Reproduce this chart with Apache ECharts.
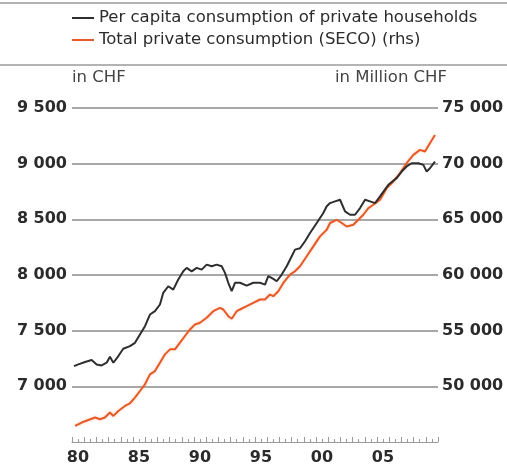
<!DOCTYPE html>
<html>
<head>
<meta charset="utf-8">
<title>Private consumption</title>
<script src="https://cdn.jsdelivr.net/npm/echarts@6/dist/echarts.min.js"></script>
<style>
  html, body { margin: 0; padding: 0; background: #fff; }
  #chart { width: 507px; height: 472px; }
</style>
</head>
<body>
<div id="chart"></div>
<script>
// ---------------------------------------------------
// Data
// ---------------------------------------------------
const perCapitaYears = [
  1980.16, 1980.52, 1981.07, 1981.61, 1982.02, 1982.43, 1982.84, 1983.11, 1983.39, 1983.80,
  1984.20, 1984.75, 1985.16, 1985.57, 1985.98, 1986.39, 1986.80, 1987.21, 1987.48, 1987.89,
  1988.30, 1988.71, 1989.12, 1989.40, 1989.81, 1990.22, 1990.63, 1991.04, 1991.45, 1991.86,
  1992.27, 1992.54, 1992.81, 1993.09, 1993.36, 1993.77, 1994.32, 1994.86, 1995.41, 1995.82,
  1996.09, 1996.50, 1996.78, 1997.19, 1997.60, 1998.01, 1998.28, 1998.69, 1999.10, 1999.51,
  2000.06, 2000.60, 2000.88, 2001.15, 2001.56, 2001.97, 2002.38, 2002.79, 2003.20, 2003.61,
  2004.02, 2004.43, 2004.84, 2005.25, 2005.93, 2006.61, 2007.02, 2007.43, 2007.84, 2008.39,
  2008.80, 2009.07, 2009.34, 2009.75
];
const perCapita = [
  7182, 7197, 7218, 7236, 7197, 7188, 7212, 7266, 7212, 7272,
  7338, 7361, 7391, 7466, 7540, 7645, 7675, 7735, 7840, 7899,
  7869, 7959, 8033, 8064, 8033, 8064, 8048, 8093, 8078, 8093,
  8078, 8019, 7930, 7855, 7930, 7930, 7905, 7930, 7930, 7914,
  7989, 7965, 7944, 8004, 8078, 8168, 8228, 8240, 8303, 8377,
  8467, 8557, 8617, 8646, 8661, 8676, 8571, 8541, 8541, 8601,
  8676, 8661, 8646, 8706, 8810, 8870, 8929, 8975, 9004, 9004,
  8989, 8929, 8959, 9019
];

const totalYears = [
  1980.25, 1980.80, 1981.34, 1981.89, 1982.30, 1982.70, 1983.11, 1983.39, 1983.80, 1984.34,
  1984.75, 1985.16, 1985.57, 1985.98, 1986.39, 1986.80, 1987.21, 1987.62, 1988.03, 1988.44,
  1988.85, 1989.26, 1989.67, 1990.08, 1990.49, 1991.04, 1991.58, 1992.13, 1992.40, 1992.81,
  1993.09, 1993.50, 1993.77, 1994.32, 1994.86, 1995.41, 1995.82, 1996.23, 1996.50, 1996.91,
  1997.32, 1997.87, 1998.28, 1998.69, 1999.24, 1999.78, 2000.33, 2000.88, 2001.15, 2001.70,
  2002.11, 2002.52, 2003.06, 2003.47, 2003.88, 2004.29, 2004.70, 2005.25, 2005.80, 2006.34,
  2006.89, 2007.43, 2007.98, 2008.52, 2008.93, 2009.34, 2009.75
];
const totalConsumption = [
  46444, 46747, 46980, 47197, 47045, 47197, 47645, 47343, 47790, 48239,
  48478, 48990, 49582, 50184, 51078, 51373, 52125, 52872, 53320, 53320,
  53920, 54520, 55110, 55560, 55710, 56157, 56750, 57050, 56900, 56300,
  56070, 56750, 56900, 57200, 57500, 57800, 57800, 58245, 58095, 58540,
  59290, 60040, 60340, 60780, 61680, 62570, 63470, 64070, 64670, 64960,
  64670, 64360, 64520, 64960, 65410, 66010, 66310, 66760, 67810, 68400,
  69150, 70040, 70790, 71240, 71090, 71840, 72580
];

const leftTicks = [7000, 7500, 8000, 8500, 9000, 9500];
const rightTicks = [50000, 55000, 60000, 65000, 70000, 75000];
const yearLabels = [1980, 1985, 1990, 1995, 2000, 2005];

// ---------------------------------------------------
// Helpers
// ---------------------------------------------------
const fmtThousands = v => String(v).replace(/\B(?=(\d{3})+(?!\d))/g, " ");
const zip = (xs, ys) => xs.map((x, i) => [x, ys[i]]);

const GRID_COLOR = "#a8a8a8";
const TEXT_COLOR = "#2b2b2b";
const ORANGE = "#e65a28";
const BLACK = "#2e2e2e";

// first split line (6500) sits on the x axis and stays hidden
const splitColors = ["rgba(0,0,0,0)"].concat(leftTicks.map(() => GRID_COLOR));

// ---------------------------------------------------
// Chart
// ---------------------------------------------------
const chart = echarts.init(document.getElementById("chart"), null, { renderer: "canvas" });

chart.setOption({
  animation: false,
  backgroundColor: "#fff",
  textStyle: { fontFamily: "DejaVu Sans" },
  grid: { left: 72, right: 69, top: 108, bottom: 30 },

  legend: {
    orient: "vertical",
    left: 72,
    top: 9,
    padding: 0,
    icon: "rect",
    itemWidth: 22,
    itemHeight: 2,
    itemGap: 4,
    selectedMode: false,
    textStyle: { fontSize: 16.5, color: TEXT_COLOR, lineHeight: 18 },
    data: [
      { name: "Per capita consumption of private households", itemStyle: { color: BLACK } },
      { name: "Total private consumption (SECO) (rhs)", itemStyle: { color: ORANGE } }
    ]
  },

  graphic: [
    { type: "line", shape: { x1: 0, y1: 3, x2: 507, y2: 3 }, style: { stroke: "#9a9a9a", lineWidth: 1.5 } },
    { type: "line", shape: { x1: 0, y1: 65, x2: 507, y2: 65 }, style: { stroke: "#9a9a9a", lineWidth: 1.5 } },
    { type: "text", left: 72, top: 69, style: { text: "in CHF", fontSize: 16.5, fill: "#444", fontFamily: "DejaVu Sans" } },
    { type: "text", right: 60, top: 69, style: { text: "in Million CHF", fontSize: 16.5, fill: "#444", fontFamily: "DejaVu Sans" } }
  ],

  xAxis: {
    type: "value",
    min: 1980,
    max: 2010,
    interval: 1,
    axisLine: { show: true, lineStyle: { color: "#9a9a9a", width: 1 } },
    axisTick: { show: true, inside: true, length: 5, lineStyle: { color: "#9a9a9a" } },
    minorTick: { show: true, splitNumber: 2, length: 3, lineStyle: { color: "#9a9a9a" } },
    splitLine: { show: false },
    axisLabel: {
      color: TEXT_COLOR,
      fontSize: 16,
      fontWeight: "bold",
      margin: 8,
      padding: [0, 0, 0, 12],
      showMaxLabel: false,
      formatter: v => (yearLabels.includes(v) ? String(v).slice(2) : "")
    }
  },

  yAxis: [
    {
      type: "value",
      position: "left",
      min: 6500,
      max: 9500,
      interval: 500,
      axisLine: { show: false },
      axisTick: { show: false },
      splitLine: { show: true, lineStyle: { color: splitColors, width: 2 } },
      axisLabel: {
        color: TEXT_COLOR,
        fontSize: 16,
        fontWeight: "bold",
        margin: 5,
        formatter: v => (leftTicks.includes(v) ? fmtThousands(v) : "")
      }
    },
    {
      type: "value",
      position: "right",
      min: 45000,
      max: 75000,
      interval: 5000,
      axisLine: { show: false },
      axisTick: { show: false },
      splitLine: { show: false },
      axisLabel: {
        color: TEXT_COLOR,
        fontSize: 16,
        fontWeight: "bold",
        margin: 4,
        formatter: v => (rightTicks.includes(v) ? fmtThousands(v) : "")
      }
    }
  ],

  series: [
    {
      name: "Total private consumption (SECO) (rhs)",
      type: "line",
      yAxisIndex: 1,
      data: zip(totalYears, totalConsumption),
      showSymbol: false,
      lineStyle: { color: ORANGE, width: 2, shadowColor: "rgba(240,120,60,0.35)", shadowBlur: 3 },
      itemStyle: { color: ORANGE },
      z: 3
    },
    {
      name: "Per capita consumption of private households",
      type: "line",
      yAxisIndex: 0,
      data: zip(perCapitaYears, perCapita),
      showSymbol: false,
      lineStyle: { color: BLACK, width: 2 },
      itemStyle: { color: BLACK },
      z: 4
    }
  ]
});

window.addEventListener("resize", chart.resize);
</script>
</body>
</html>
